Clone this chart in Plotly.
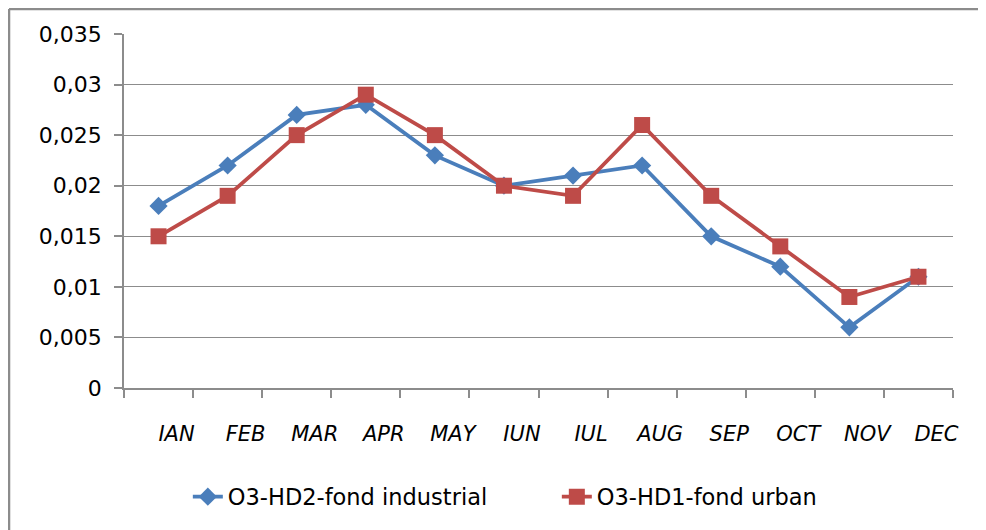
import plotly.graph_objects as go

months = ["IAN", "FEB", "MAR", "APR", "MAY", "IUN", "IUL", "AUG", "SEP", "OCT", "NOV", "DEC"]
industrial = [0.018, 0.022, 0.027, 0.028, 0.023, 0.020, 0.021, 0.022, 0.015, 0.012, 0.006, 0.011]
urban = [0.015, 0.019, 0.025, 0.029, 0.025, 0.020, 0.019, 0.026, 0.019, 0.014, 0.009, 0.011]
y_ticks = [0, 0.005, 0.01, 0.015, 0.02, 0.025, 0.03, 0.035]

fig = go.Figure()
fig.add_trace(go.Scatter(
    x=months, y=industrial, name="O3-HD2-fond industrial", mode="lines+markers",
    line=dict(color="#4A7EBB", width=3.8),
    marker=dict(symbol="diamond", size=14, color="#4A7EBB"),
))
fig.add_trace(go.Scatter(
    x=months, y=urban, name="O3-HD1-fond urban", mode="lines+markers",
    line=dict(color="#BE4B48", width=3.8),
    marker=dict(symbol="square", size=16, color="#BE4B48"),
))

grid = "#8C8C8C"
fig.update_layout(
    width=986, height=530,
    margin=dict(l=116, r=41, t=26, b=150),
    paper_bgcolor="white", plot_bgcolor="white",
    separators=", ",
    font=dict(family="DejaVu Sans", color="#000000"),
    showlegend=True,
    legend=dict(orientation="h", x=0.077, xanchor="left", y=-0.308, yanchor="middle",
                font=dict(size=22.5, family="DejaVu Sans"),
                entrywidth=324, entrywidthmode="pixels",
                tracegroupgap=0),
    xaxis=dict(
        type="category", range=[-0.5, 11.5],
        showline=True, linecolor=grid, linewidth=1.5,
        ticks="outside", tickson="boundaries", ticklen=8, tickcolor=grid, tickwidth=1.5,
        showgrid=False,
        tickfont=dict(size=21, family="DejaVu Sans", style="italic", color="#000"),
        ticklabelshift=18, ticklabelstandoff=26,
    ),
    yaxis=dict(
        range=[0, 0.035], tickvals=y_ticks, tickformat="",
        showline=True, linecolor=grid, linewidth=1.5,
        showgrid=True, gridcolor=grid, gridwidth=1.2,
        ticks="outside", ticklen=8, tickcolor=grid, tickwidth=1.5,
        zeroline=False,
        tickfont=dict(size=22, family="DejaVu Sans", color="#000"),
        ticklabelstandoff=8,
    ),
    shapes=[
        dict(type="line", xref="paper", yref="paper", x0=-0.1387, x1=-0.1387, y0=-0.5, y1=1.0706,
             line=dict(color="#8C8C8C", width=2.5)),
        dict(type="line", xref="paper", yref="paper", x0=-0.1387, x1=1.1, y0=1.0706, y1=1.0706,
             line=dict(color="#8C8C8C", width=2.5)),
    ],
)
fig.write_html("out.html")
